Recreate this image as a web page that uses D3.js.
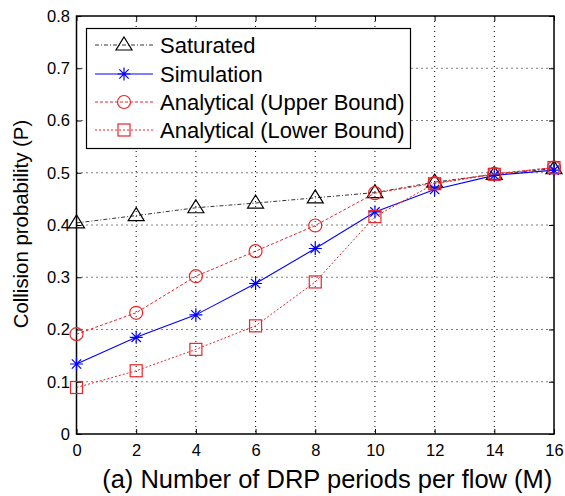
<!DOCTYPE html>
<html><head><meta charset="utf-8">
<script src="https://cdn.jsdelivr.net/npm/d3@7"></script>
<style>body{margin:0;background:#fff}svg{display:block;font-family:"Liberation Sans",Arial,sans-serif}</style>
</head><body><svg id="c" width="565" height="496"></svg>
<script>
const xValues = [0, 2, 4, 6, 8, 10, 12, 14, 16];
const saturated = [0.404, 0.418, 0.433, 0.442, 0.452, 0.462, 0.482, 0.497, 0.508];
const simulation = [0.134, 0.185, 0.228, 0.288, 0.355, 0.425, 0.468, 0.495, 0.505];
const upperBound = [0.191, 0.232, 0.302, 0.350, 0.399, 0.461, 0.480, 0.498, 0.510];
const lowerBound = [0.089, 0.121, 0.162, 0.207, 0.291, 0.416, 0.479, 0.497, 0.510];
const xTicks = [0, 2, 4, 6, 8, 10, 12, 14, 16];
const yTicks = [0, 0.1, 0.2, 0.3, 0.4, 0.5, 0.6, 0.7, 0.8];
const seriesNames = ["Saturated", "Simulation", "Analytical (Upper Bound)", "Analytical (Lower Bound)"];

const svg = d3.select("#c");
const L = 76.5, R = 554, T = 16, B = 434;
const x = d3.scaleLinear().domain([0, 16]).range([L, R]);
const y = d3.scaleLinear().domain([0, 0.8]).range([B, T]);

// grid
const g = svg.append("g");
g.selectAll(".gx").data(xTicks.slice(1, -1)).enter().append("line")
  .attr("x1", d => x(d)).attr("x2", d => x(d)).attr("y1", T).attr("y2", B)
  .attr("stroke", "#000").attr("stroke-width", 1).attr("stroke-dasharray", "1,4");
g.selectAll(".gy").data(yTicks.slice(1, -1)).enter().append("line")
  .attr("y1", d => y(d)).attr("y2", d => y(d)).attr("x1", L).attr("x2", R)
  .attr("stroke", "#000").attr("stroke-width", 1).attr("stroke-dasharray", "1,4");

// axes
const xAxis = d3.axisBottom(x).tickValues(xTicks).tickSize(-5).tickPadding(10.5).tickFormat(d3.format("d"));
const yAxis = d3.axisLeft(y).tickValues(yTicks).tickSize(-5).tickPadding(6.5).tickFormat(d => d === 0 ? "0" : d3.format(".1f")(d));
const xa = svg.append("g").attr("transform", `translate(0,${B})`).call(xAxis);
const ya = svg.append("g").attr("transform", `translate(${L},0)`).call(yAxis);
const xt = svg.append("g").attr("transform", `translate(0,${T})`).call(d3.axisTop(x).tickValues(xTicks).tickSize(-5).tickFormat(""));
const yr = svg.append("g").attr("transform", `translate(${R},0)`).call(d3.axisRight(y).tickValues(yTicks).tickSize(-5).tickFormat(""));
[xa, ya, xt, yr].forEach(a => {
  a.select(".domain").remove();
  a.selectAll("line").attr("stroke", "#000").attr("stroke-width", 1);
  a.selectAll("text").attr("fill", "#000").attr("font-size", 16.5).attr("font-family", '"Liberation Sans",Arial,sans-serif');
});
svg.append("rect").attr("x", L).attr("y", T).attr("width", R - L).attr("height", B - T)
  .attr("fill", "none").attr("stroke", "#000").attr("stroke-width", 1.5);

// series
const styles = [
  {data: saturated, color: "#000", dash: "4,2,1,2", width: 0.8, marker: "triangle"},
  {data: simulation, color: "#0000ff", dash: null, width: 1.1, marker: "star"},
  {data: upperBound, color: "#e8262a", dash: "3,2", width: 1, marker: "circle"},
  {data: lowerBound, color: "#e8262a", dash: "2,2", width: 1, marker: "square"}
];
const line = d3.line().x((d, i) => x(xValues[i])).y(d => y(d));

function drawMarker(sel, type, color, cx, cy) {
  if (type === "triangle") {
    sel.append("path").attr("d", `M${cx},${cy - 8}L${cx + 8},${cy + 5}L${cx - 8},${cy + 5}Z`)
      .attr("fill", "none").attr("stroke", color).attr("stroke-width", 1.2);
  } else if (type === "circle") {
    sel.append("circle").attr("cx", cx).attr("cy", cy).attr("r", 6.5)
      .attr("fill", "none").attr("stroke", color).attr("stroke-width", 1.2);
  } else if (type === "square") {
    sel.append("rect").attr("x", cx - 6).attr("y", cy - 6).attr("width", 12).attr("height", 12)
      .attr("fill", "none").attr("stroke", color).attr("stroke-width", 1.2);
  } else if (type === "star") {
    const r = 6.5;
    let p = `M${cx - r},${cy}L${cx + r},${cy}M${cx},${cy - r}L${cx},${cy + r}`;
    const k = r * 0.72;
    p += `M${cx - k},${cy - k}L${cx + k},${cy + k}M${cx - k},${cy + k}L${cx + k},${cy - k}`;
    sel.append("path").attr("d", p).attr("stroke", color).attr("stroke-width", 1.2).attr("fill", "none");
  }
}

styles.forEach(s => {
  svg.append("path").datum(s.data).attr("d", line).attr("fill", "none")
    .attr("stroke", s.color).attr("stroke-width", s.width)
    .attr("stroke-dasharray", s.dash);
  const mg = svg.append("g");
  s.data.forEach((v, i) => drawMarker(mg, s.marker, s.color, x(xValues[i]), y(v)));
});

// legend
const lg = svg.append("g");
lg.append("rect").attr("x", 86.5).attr("y", 28.5).attr("width", 324).attr("height", 120)
  .attr("fill", "#fff").attr("stroke", "#000").attr("stroke-width", 1.2);
const rowsY = [45, 74, 102, 130];
styles.forEach((s, i) => {
  const yy = rowsY[i];
  lg.append("line").attr("x1", 95).attr("x2", 153).attr("y1", yy).attr("y2", yy)
    .attr("stroke", s.color).attr("stroke-width", s.width).attr("stroke-dasharray", s.dash);
  drawMarker(lg, s.marker, s.color, 124, yy);
  lg.append("text").attr("x", 160).attr("y", yy).attr("dy", "0.35em")
    .attr("font-size", 22).attr("fill", "#000").text(seriesNames[i]);
});

// titles
svg.append("text").attr("x", (L + R) / 2 + 12).attr("y", 488).attr("text-anchor", "middle")
  .attr("font-size", 25.5).attr("fill", "#000").text("(a) Number of DRP periods per flow (M)");
svg.append("text").attr("transform", `translate(27.5,224) rotate(-90)`)
  .attr("text-anchor", "middle").attr("font-size", 20.4).attr("fill", "#000").text("Collision probability (P)");
</script></body></html>
